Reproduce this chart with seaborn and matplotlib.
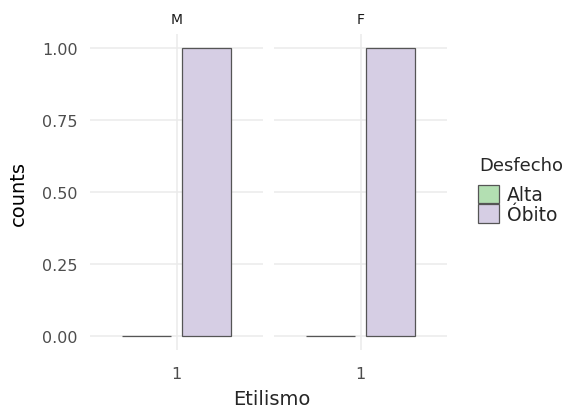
import matplotlib
matplotlib.use("Agg")
import matplotlib.pyplot as plt
import seaborn as sns
import pandas as pd

# data
sexo = ["M", "M", "F", "F"]
etilismo = ["1", "1", "1", "1"]
desfecho = ["Alta", "Óbito", "Alta", "Óbito"]
counts = [0.0, 1.0, 0.0, 1.0]

facets = ["M", "F"]
hue_order = ["Alta", "Óbito"]
palette = {"Alta": "#B3DFB2", "Óbito": "#D6CEE4"}

df = pd.DataFrame({"sexo": sexo, "Etilismo": etilismo,
                   "Desfecho": desfecho, "counts": counts})

sns.set_style("white")
plt.rcParams["font.family"] = ["DejaVu Sans"]

fig = plt.figure(figsize=(5.75, 4.14), dpi=100)
ax_l = fig.add_axes([0.1565, 0.151, 0.301, 0.765])
ax_r = fig.add_axes([0.4765, 0.151, 0.301, 0.765])

grey_txt = "#4D4D4D"
for i, (ax, fac) in enumerate(zip([ax_l, ax_r], facets)):
    sub = df[df.sexo == fac]
    sns.barplot(data=sub, x="Etilismo", y="counts", hue="Desfecho",
                hue_order=hue_order, palette=palette, width=0.84, gap=0.19,
                edgecolor="#555555", linewidth=0.9, saturation=1,
                legend=(i == 1), ax=ax, zorder=3)
    ax.set_xlim(-0.6, 0.6)
    ax.set_ylim(-0.05, 1.05)
    ax.set_yticks([0, 0.25, 0.5, 0.75, 1.0])
    ax.grid(True, color="#EBEBEB", linewidth=1.1, zorder=0)
    ax.set_axisbelow(True)
    for s in ax.spines.values():
        s.set_visible(False)
    ax.tick_params(axis="y", length=0, labelsize=11.5, labelcolor=grey_txt, pad=9)
    ax.tick_params(axis="x", length=0, labelsize=11.5, labelcolor=grey_txt, pad=11)
    ax.set_title(fac, fontsize=10, color="#1A1A1A", pad=8)
    ax.set_xlabel("")
    if i == 0:
        ax.set_yticklabels(["0.00", "0.25", "0.50", "0.75", "1.00"])
        ax.set_ylabel("counts", fontsize=14, color="black", labelpad=10)
    else:
        ax.set_yticklabels([])
        ax.set_ylabel("")

fig.text(0.4725, 0.035, "Etilismo", ha="center", va="center", fontsize=14)

# legend, title drawn separately to get the spacing right
fig.text(0.833, 0.599, "Desfecho", ha="left", va="center", fontsize=13)
sns.move_legend(ax_r, loc="upper left", bbox_to_anchor=(0.831, 0.551),
                bbox_transform=fig.transFigure, frameon=False, title=None,
                fontsize=13.5, handlelength=1.12, handleheight=1.12,
                labelspacing=0, handletextpad=0.45, borderpad=0,
                borderaxespad=0)

fig.savefig("out.png", dpi=100, facecolor="white")
